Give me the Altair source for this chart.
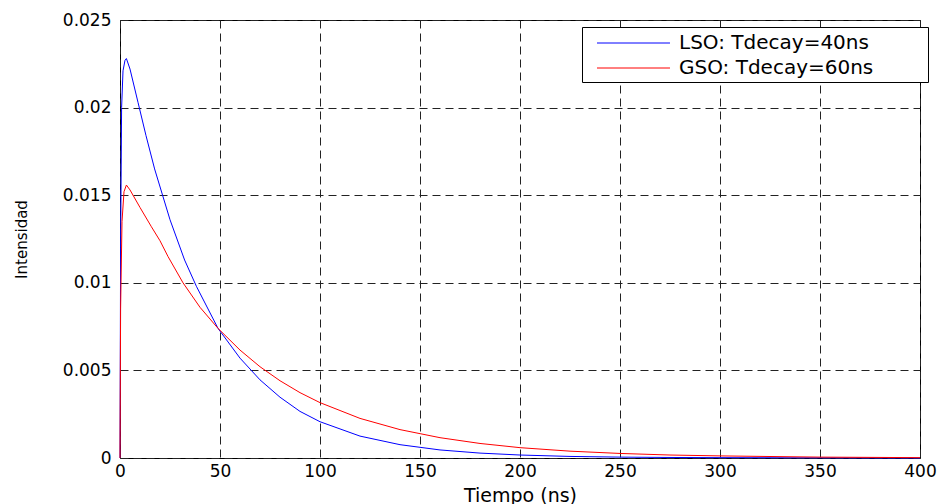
import altair as alt
import pandas as pd

lso_name = "LSO: Tdecay=40ns"
gso_name = "GSO: Tdecay=60ns"

lso_t = [0, 0.3, 0.8, 1.5, 2.5, 3.2, 5, 9, 13, 17.3, 25, 32.3, 38.2, 49, 60, 70, 80, 90, 100,
         120, 140, 160, 180, 200, 225, 250, 275, 300, 350, 400]
lso_y = [0.0, 0.0120, 0.0200, 0.0221, 0.0227, 0.0228, 0.0222, 0.0203, 0.0184, 0.0165, 0.0136,
         0.0113, 0.0098, 0.0074, 0.0057, 0.00446, 0.00347, 0.00266, 0.00207,
         0.00125, 0.00076, 0.00046, 0.00028, 0.00017, 0.00009, 0.00005, 0.00003, 0.00002,
         0.00001, 0.0]

gso_t = [0, 0.3, 1, 2, 3.2, 5, 10, 15.7, 20, 24, 31.5, 40, 49, 60, 70, 80, 90, 100,
         120, 140, 160, 180, 200, 225, 250, 275, 300, 350, 400]
gso_y = [0.0, 0.0085, 0.0135, 0.0152, 0.01558, 0.0153, 0.0143, 0.0132, 0.0124, 0.0115, 0.0100,
         0.0086, 0.0074, 0.00616, 0.00521, 0.00441, 0.00373, 0.00316,
         0.00226, 0.00162, 0.00116, 0.00083, 0.00059, 0.00039, 0.00026, 0.00017, 0.00012,
         0.00005, 0.00002]

x_ticks = [0, 50, 100, 150, 200, 250, 300, 350, 400]
y_ticks = [0, 0.005, 0.01, 0.015, 0.02, 0.025]

df = pd.concat([
    pd.DataFrame({"t": lso_t, "v": lso_y, "serie": lso_name, "ord": range(len(lso_t))}),
    pd.DataFrame({"t": gso_t, "v": gso_y, "serie": gso_name, "ord": range(len(gso_t))}),
])

FONT = "DejaVu Sans"

chart = alt.Chart(df).mark_line(strokeWidth=1, interpolate="linear").encode(
    x=alt.X("t:Q", scale=alt.Scale(domain=[0, 400], nice=False),
            axis=alt.Axis(values=x_ticks, title="Tiempo (ns)", format="d", labelFlush=False,
                          titleX=400, titleY=43, titleBaseline="alphabetic")),
    y=alt.Y("v:Q", scale=alt.Scale(domain=[0, 0.025], nice=False),
            axis=alt.Axis(values=y_ticks, title="Intensidad", format="~g", labelFlush=False,
                          titleX=-99, titleY=219, titleAngle=270,
                          titleBaseline="middle", titleAlign="center")),
    color=alt.Color("serie:N",
                    scale=alt.Scale(domain=[lso_name, gso_name], range=["#0000ff", "#ff0000"]),
                    legend=alt.Legend(title=".", titleOrient="right", titleColor="#fff",
                                      titleFontSize=8, titlePadding=48,
                                      orient="none", legendX=462, legendY=7,
                                      symbolType="M-0.087,0L6.26,0", symbolSize=529,
                                      symbolStrokeWidth=1, labelOffset=69, labelLimit=400,
                                      labelFont=FONT, labelFontSize=20, labelColor="#000",
                                      padding=4, rowPadding=3,
                                      strokeColor="#000", fillColor="#fff")),
    order="ord:Q",
).properties(
    width=800, height=438,
    autosize=alt.AutoSizeParams(type="none"),
    padding={"left": 120, "top": 20, "right": 21, "bottom": 46},
    background="#ffffff",
).configure_view(
    stroke="#000", strokeWidth=1,
).configure_axis(
    grid=True, gridColor="#222", gridDash=[8, 5], gridOpacity=1, gridWidth=1,
    domain=False, ticks=False,
    labelFont=FONT, labelFontSize=17, labelColor="#000", labelPadding=6,
    titleFont=FONT, titleColor="#000", titleFontWeight="normal",
).configure_axisX(
    titleFontSize=19, labelPadding=5,
).configure_axisY(
    titleFontSize=15, labelPadding=9,
)

chart.save("out.html", embed_options={"renderer": "svg", "actions": False})
